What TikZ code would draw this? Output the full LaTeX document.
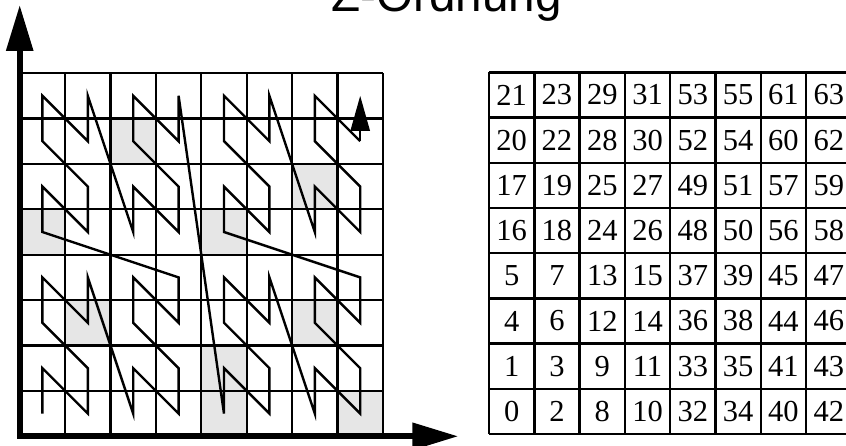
\documentclass[tikz,border=0pt]{standalone}
\usepackage{fontspec}
\setmainfont{Liberation Serif}
\newfontfamily\titlefont{Liberation Sans}
\usetikzlibrary{arrows.meta,calc}
\definecolor{zShade}{HTML}{E6E6E6}
\tikzset{
  gridline/.style={line width=2.2pt, black},
  tableline/.style={line width=2.4pt, black},
  zcurve/.style={line width=2.4pt, black, line join=miter},
  endarrow/.style={zcurve, -{Triangle[length=35pt,width=19pt]}},
  axisline/.style={line width=6pt, line join=miter,
    {Triangle[length=46pt,width=26pt]}-{Triangle[length=46pt,width=26pt]}},
  shadecell/.style={fill=zShade},
  cellnum/.style={font=\fontsize{30.5}{31}\selectfont, inner sep=0pt},
  titletext/.style={font=\titlefont\fontsize{47.6}{50}\selectfont, anchor=base, inner sep=0pt}
}

\begin{document}
\begin{tikzpicture}[x=1pt,y=1pt]
  \useasboundingbox (0,0) rectangle (846,446);
  \node[titletext] (title) at (446.7,434) {Z-Ordnung};

  % curve grid
  \begin{scope}[shift={(19.7,9.7)}, x=45.4pt, y=45.4pt]
    \foreach \i/\j in {2/6,6/5,0/4,4/4,1/2,6/2,4/1,4/0,7/0}
      \fill[shadecell] (\i,\j) rectangle ++(1,1);
    \foreach \k in {1,...,8}{
      \draw[gridline] (\k,0) -- (\k,8);
      \draw[gridline] (0,\k) -- (8,\k);
    }
    % cell centres in z-order
    \foreach \n in {0,...,63}{
      \pgfmathtruncatemacro{\row}{mod(\n,2)+2*mod(floor(\n/4),2)+4*mod(floor(\n/16),2)}
      \pgfmathtruncatemacro{\col}{mod(floor(\n/2),2)+2*mod(floor(\n/8),2)+4*mod(floor(\n/32),2)}
      \coordinate (p\n) at (\col+0.5,\row+0.5);
    }
    \draw[zcurve] (p0) \foreach \n in {1,...,62}{-- (p\n)};
    \draw[endarrow] (p62) -- (p63);
    \coordinate (orig) at (0,0);
  \end{scope}

  % axes
  \coordinate (ytip) at (19.7,441);
  \coordinate (xtip) at (458.3,9.7);
  \draw[axisline] (ytip) -- (orig) -- (xtip);

  % number table
  \begin{scope}[shift={(489,12)}, x=45.3pt, y=45.2pt]
    \foreach \k in {0,...,8}{
      \draw[tableline] (\k,0) -- (\k,8);
      \draw[tableline] (0,\k) -- (8,\k);
    }
    \foreach \r/\vals in {0/{0,2,8,10,32,34,40,42},
                          1/{1,3,9,11,33,35,41,43},
                          2/{4,6,12,14,36,38,44,46},
                          3/{5,7,13,15,37,39,45,47},
                          4/{16,18,24,26,48,50,56,58},
                          5/{17,19,25,27,49,51,57,59},
                          6/{20,22,28,30,52,54,60,62},
                          7/{21,23,29,31,53,55,61,63}}{
      \foreach \v [count=\c from 0] in \vals
        \node[cellnum] (n-\c-\r) at (\c+0.5,\r+0.5) {\v};
    }
  \end{scope}
\end{tikzpicture}
\end{document}
